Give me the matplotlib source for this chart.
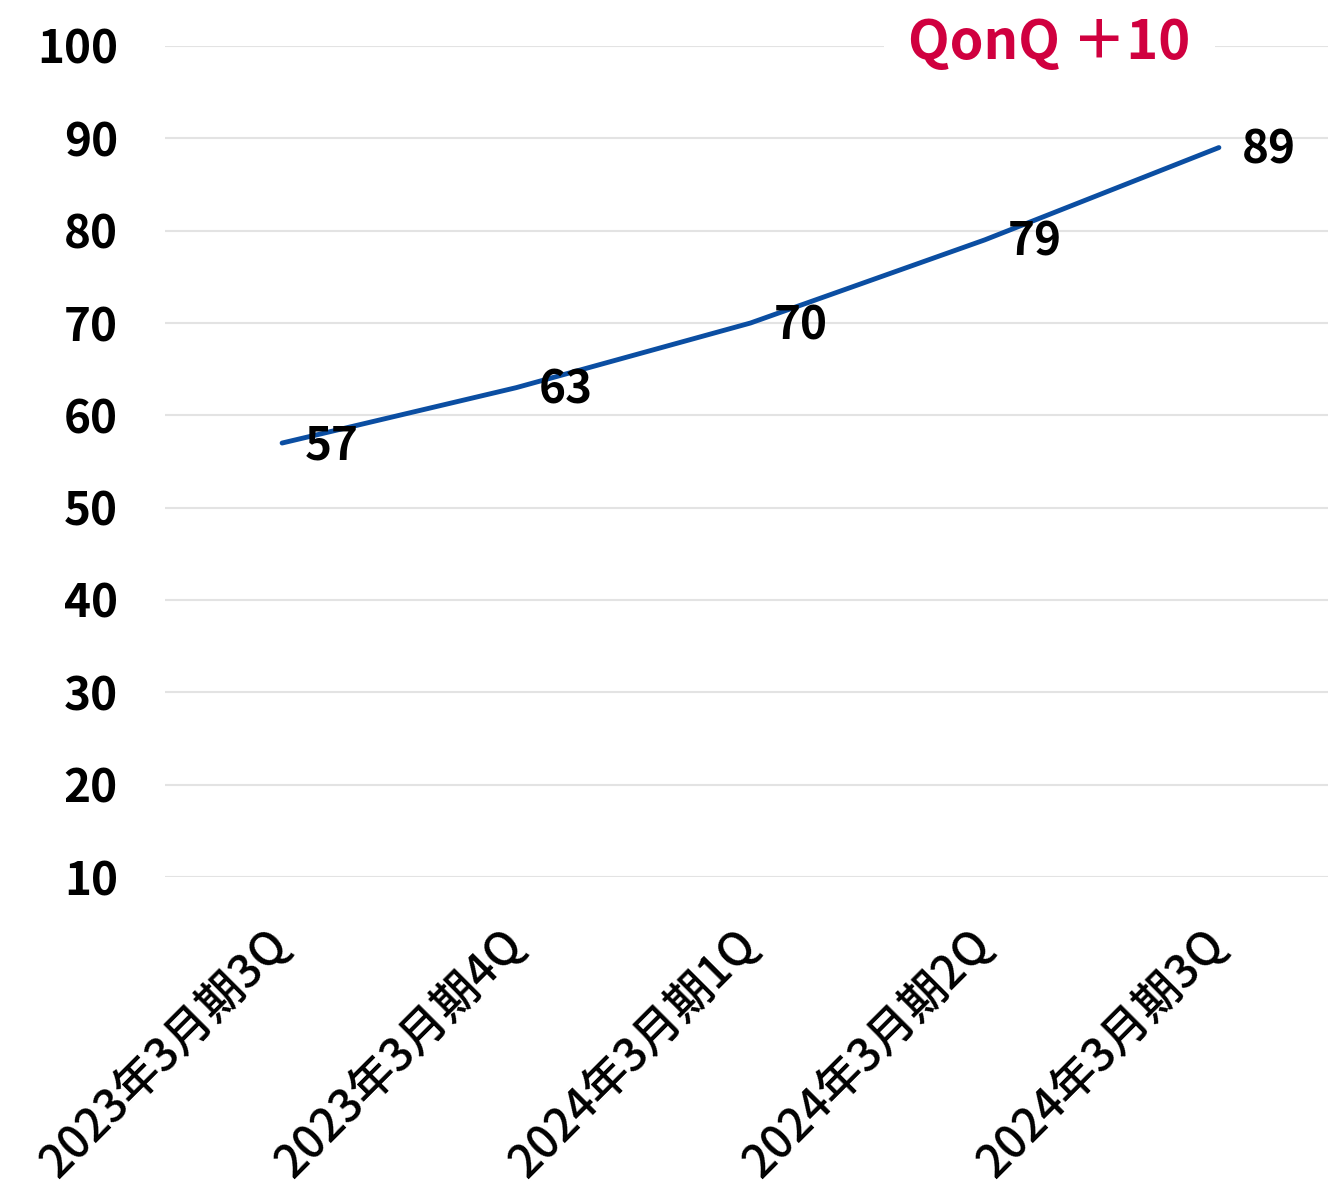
import matplotlib
matplotlib.use("Agg")
import matplotlib.pyplot as plt

plt.rcParams['font.family'] = ['Noto Sans CJK JP', 'DejaVu Sans']

categories = ["2023年3月期3Q", "2023年3月期4Q", "2024年3月期1Q", "2024年3月期2Q", "2024年3月期3Q"]
values = [57, 63, 70, 79, 89]
yticks = [10, 20, 30, 40, 50, 60, 70, 80, 90, 100]
title = "QonQ ＋10"

W, H = 1328, 1194
fig = plt.figure(figsize=(W / 100, H / 100), dpi=100)
left, right = 165 / W, 1336 / W
top, bottom = 1 - 46 / H, 1 - 877 / H
ax = fig.add_axes([left, bottom, right - left, top - bottom])

x = list(range(len(categories)))
ax.plot(x, values, color='#0B4EA2', lw=3.5, solid_capstyle='round', zorder=3)
for xi, v in zip(x, values):
    ax.annotate(str(v), (xi, v), xytext=(50, -3), textcoords='offset pixels',
                ha='center', va='center', fontsize=33, fontweight='bold', color='black', zorder=4)

ax.set_xlim(-0.5, len(categories) - 0.5)
ax.set_ylim(10, 100)
ax.set_yticks(yticks)
ax.set_yticklabels([str(t) for t in yticks], fontsize=33, fontweight='bold')
ax.grid(axis='y', color='#E3E3E3', lw=1.5, zorder=0)
ax.set_xticks(x)
ax.set_xticklabels(categories, rotation=45, ha='right', va='center', rotation_mode='anchor',
                   fontsize=33, fontweight='medium')
ax.tick_params(axis='both', length=0)
ax.tick_params(axis='y', pad=34)
ax.tick_params(axis='x', pad=44)
for s in ax.spines.values():
    s.set_visible(False)

ax.text(1049 / W, 1 - 44 / H, title, transform=fig.transFigure, ha='center', va='center',
        fontsize=39, fontweight='bold', color='#D0003F',
        bbox=dict(facecolor='white', edgecolor='none', pad=0, boxstyle='square,pad=0.45'), zorder=5)

fig.savefig('out.png', dpi=100, facecolor='white')
